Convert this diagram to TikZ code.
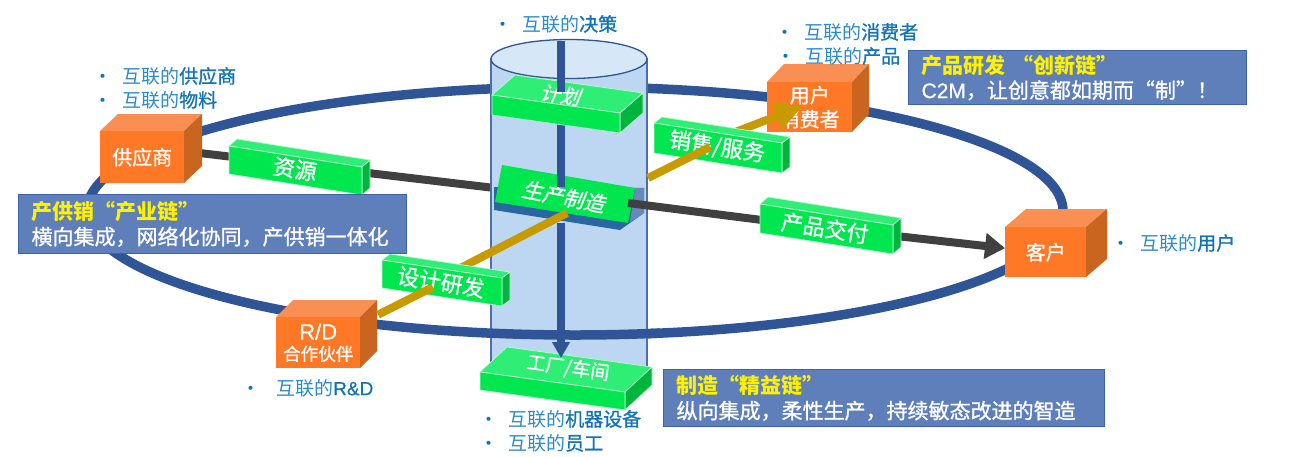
\documentclass[tikz,border=0pt]{standalone}
\usepackage{fontspec}
\setmainfont{Noto Sans CJK SC}
\newfontfamily\midfont[FakeBold=1]{Noto Sans CJK SC}
\newfontfamily\latinfont[FakeBold=0.6]{Liberation Sans}
\usetikzlibrary{arrows.meta}
\definecolor{RingBlue}{HTML}{2F5597}
\definecolor{CylBody}{HTML}{BDD7F2}
\definecolor{CylTop}{HTML}{D6E7F7}
\definecolor{SteelGrey}{HTML}{404040}
\definecolor{Gold}{HTML}{C79A00}
\definecolor{SlabFront}{HTML}{00E64F}
\definecolor{SlabTop}{HTML}{2FEE76}
\definecolor{SlabSide}{HTML}{00B53E}
\definecolor{SlabEdge}{HTML}{C4F5D2}
\definecolor{CubeFront}{HTML}{FF7826}
\definecolor{CubeTop}{HTML}{F98F52}
\definecolor{CubeSide}{HTML}{C9651F}
\definecolor{NoteFill}{HTML}{5F7FBA}
\definecolor{NoteEdge}{HTML}{3F62AC}
\definecolor{LinkBlue}{HTML}{2B8CC9}
\definecolor{LinkDeep}{HTML}{1274B4}
\pgfdeclarelayer{back}
\pgfdeclarelayer{links}
\pgfdeclarelayer{front}
\pgfsetlayers{back,links,main,front}
\newcommand{\linked}[2]{\textcolor{LinkDeep}{\textbullet}\hspace{#1}互联的{\midfont\textcolor{LinkDeep}{#2}}}
\newcommand{\chain}[1]{\textcolor{yellow}{\normalfont\bfseries #1}}
\begin{document}
\begin{tikzpicture}[x=1pt,y=-1pt,
	ring/.style={draw=RingBlue,line width=9.5pt},
	steel/.style={draw=SteelGrey,line width=8pt},
	goldline/.style={draw=Gold,line width=8pt},
	spine/.style={draw=RingBlue,line width=8pt},
	slabtext/.style={text=white,inner sep=0pt,font=\fontsize{22}{22}\selectfont\midfont},
	cubeface/.style={fill=CubeFront,text=white,inner sep=0pt,align=center,anchor=north west,font=\fontsize{20}{24}\selectfont\midfont},
	note/.style={draw=NoteEdge,line width=1.2pt,fill=NoteFill,text=white,anchor=north west,align=left,inner xsep=13pt,inner ysep=0pt,font=\fontsize{21}{25}\selectfont\midfont},
	linked/.style={anchor=west,inner sep=0pt,text=LinkBlue,font=\fontsize{19}{20}\selectfont}]
\useasboundingbox (0,0) rectangle (1312,456);
% slabs
\foreach \n/\x/\y/\wx/\wy/\h/\dx/\dy/\cx/\cy/\ang/\sk/\lab in {
	Plan/492/95/128/18/20/23/20/562/95/-8/0.25/{\fontsize{20}{20}\selectfont 计划},
	Res/229/146/133/21/28/8/7/295/169/-9/0/资源,
	Sales/654/123/128/20/30/8/6/717/147/-9/0/{销售/服务},
	Deliver/760/204/133/21/29/8/7/825/228/-9/0/产品交付,
	Design/382/260/120/18/28/8/6/441/282/-9/0/设计研发,
	Plant/480/372/145/20/18/27/25/568/368/-8/0/{\fontsize{19}{19}\selectfont 工厂/车间}}{
	\filldraw[fill=SlabTop,draw=SlabEdge,line width=0.7pt] (\x,\y) -- ++(\dx,-\dy) -- ++(\wx,\wy) -- ++(-\dx,\dy) -- cycle;
	\filldraw[fill=SlabSide,draw=SlabEdge,line width=0.7pt] (\x,\y) ++(\wx,\wy) -- ++(\dx,-\dy) -- ++(0,\h) -- ++(-\dx,\dy) -- cycle;
	\filldraw[fill=SlabFront,draw=SlabEdge,line width=0.7pt] (\x,\y) -- ++(\wx,\wy) -- ++(0,\h) -- ++(-\wx,-\wy) -- cycle;
	\node[slabtext,rotate=\ang,xslant=\sk] (\n) at (\cx,\cy) {\lab};
}
\begin{pgfonlayer}{links}
% cubes
\foreach \n/\x/\y/\w/\h/\dx/\dy/\lab in {
	Sup/100/131/84/52/18/17/供应商,
	Usr/767/82/85/50/17/18/{用户\\消费者},
	Cust/1005/227/81/50/21/18/客户,
	RD/276/317/84/51/17/17/{{\latinfont\fontsize{22}{24}\selectfont R/D}\\[-3pt]{\fontsize{17.5}{20}\selectfont 合作伙伴}}}{
	\fill[CubeTop] (\x,\y) -- ++(\dx,-\dy) -- ++(\w,0) -- ++(-\dx,\dy) -- cycle;
	\fill[CubeSide] (\x,\y) ++(\w,0) -- ++(\dx,-\dy) -- ++(0,\h) -- ++(-\dx,\dy) -- cycle;
	\node[cubeface,minimum width=\w pt,minimum height=\h pt] (\n) at (\x,\y) {\lab};
}
% production block
\fill[fill=RingBlue!90!cyan] (494,187) -- (494,210) -- (620,230) -- (644,213) -- (644,188) -- cycle;
\fill[fill=RingBlue!60!CylBody] (635,188) -- (644,188) -- (644,213) -- (630,222) -- cycle;
\fill[SlabFront] (502,165) -- (635,188) -- (628,223) -- (495,202) -- cycle;
\node[slabtext,font=\fontsize{21}{21}\selectfont\midfont,rotate=-11,xslant=0.2] (Prod) at (565,197) {生产制造};
\draw[goldline] ([shift={(0,-4)}]Design.center) -- ([shift={(2,16)}]Prod.center);
\draw[goldline,-{Triangle[length=28pt,width=27pt]}] ([shift={(0,-8)}]Sales.center) -- ([shift={(-7,-1)}]Usr.center);
\draw[steel] ([shift={(63,6)}]Prod.center) -- (Deliver);
\draw[steel,-{Triangle[length=20pt,width=25pt]}] (Deliver) -- ([yshift=4pt]Cust.west);
\draw[spine] ([shift={(-1,0)}]Plan.center) -- ([shift={(-4,-10)}]Prod.center);
\end{pgfonlayer}
\begin{pgfonlayer}{back}
\draw[ring] (575,211) ellipse [x radius=488,y radius=124];
\draw[steel] ([shift={(0,-11)}]Sup.center) -- ([shift={(-45,-6)}]Prod.center);
% cylinder
\filldraw[fill=CylBody,draw=RingBlue!85!white,line width=1.3pt] (491,59) -- (491,380) -- (647,380) -- (647,59) -- cycle;
\filldraw[fill=CylTop,draw=RingBlue,line width=1.3pt] (569,59) ellipse [x radius=78,y radius=19.5];
\draw[ring] (575,211) ++(100:488 and 124) arc [start angle=100,end angle=80,x radius=488,y radius=124];
\end{pgfonlayer}
\begin{pgfonlayer}{front}
\draw[goldline] ([shift={(60,-28)}]RD.center) -- ([shift={(-8,5)}]Design.center);
\draw[goldline] ([shift={(83,-19)}]Prod.center) -- ([shift={(-7,0)}]Sales.center);
\coordinate (SpineTop) at (561,41);
\draw[spine] (SpineTop) -- ([shift={(-1,-3)}]Plan.center);
\draw[spine,-{Triangle[length=16pt,width=17pt]}] ([shift={(-4,26)}]Prod.center) -- ([shift={(-7,-10)}]Plant.center);
\end{pgfonlayer}
% bullets
\foreach \n/\x/\y/\gap/\lab in {
	LinkA/493/24/10pt/决策,
	LinkB/775/32/10pt/消费者,
	LinkC/776/56/10pt/产品,
	LinkD/93/76/10pt/供应商,
	LinkE/93/100/10pt/物料,
	LinkF/1111/243/10pt/用户,
	LinkG/241/388/16pt/{\latinfont R\&D},
	LinkH/479/419/10pt/机器设备,
	LinkI/479/443/10pt/员工}{
	\node[linked] (\n) at (\x,\y) {\linked{\gap}{\lab}};
}
% notes
\node[note,text width=362pt,minimum height=59pt] (ChainA) at (18,194) {\chain{产供销“产业链”}\\横向集成，网络化协同，产供销一体化};
\node[note,text width=312pt,minimum height=54pt] (ChainB) at (908,50) {\chain{产品研发 “创新链”}\\{\latinfont C2M}，让创意都如期而“制”！};
\node[note,text width=415pt,minimum height=57pt] (ChainC) at (663,369) {\chain{制造“精益链”}\\纵向集成，柔性生产，持续敏态改进的智造};
\end{tikzpicture}
\end{document}
